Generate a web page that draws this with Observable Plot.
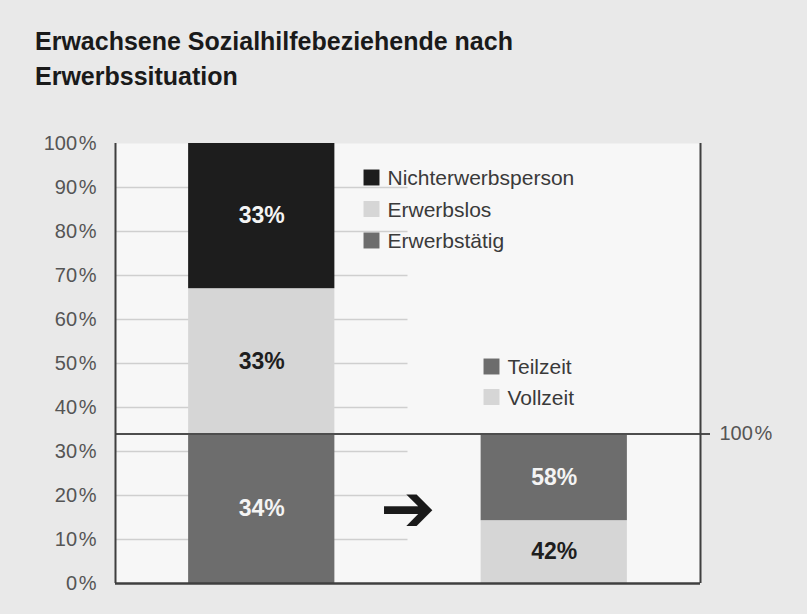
<!DOCTYPE html>
<html><head><meta charset="utf-8">
<script src="https://cdn.jsdelivr.net/npm/d3@7"></script>
<script src="https://cdn.jsdelivr.net/npm/@observablehq/plot@0.6"></script>
<style>
html,body{margin:0;padding:0;background:#e9e9e9;}
#wrap{position:relative;width:807px;height:614px;background:#e9e9e9;font-family:"Liberation Sans",Arial,sans-serif;overflow:hidden;}
#title{position:absolute;left:35px;top:24px;margin:0;font-size:25px;font-weight:bold;line-height:35px;color:#1a1a1a;z-index:2;}
#chart{position:absolute;left:0;top:0;}
</style></head><body>
<div id="wrap">
<h1 id="title">Erwachsene Sozialhilfebeziehende nach<br>Erwerbssituation</h1>
<div id="chart"></div>
</div>
<script>
// ---- data ----
const barNames = ["Alle Erwachsenen", "Erwerbstätige"];
const statusCategories = ["Erwerbstätig", "Erwerbslos", "Nichterwerbsperson"];
const statusValues = [34, 33, 33];
const workCategories = ["Vollzeit", "Teilzeit"];
const workValues = [42, 58];
const yTicks = [0, 10, 20, 30, 40, 50, 60, 70, 80, 90, 100];
const yTickLabels = ["0\u200A%", "10\u200A%", "20\u200A%", "30\u200A%", "40\u200A%", "50\u200A%", "60\u200A%", "70\u200A%", "80\u200A%", "90\u200A%", "100\u200A%"];
const rightLabel = "100\u200A%";
const arrowSymbol = "\u2794";

// ---- styles ----
const colors = {
  "Erwerbstätig": "#6d6d6d",
  "Erwerbslos": "#d6d6d6",
  "Nichterwerbsperson": "#1d1d1d",
  "Teilzeit": "#6d6d6d",
  "Vollzeit": "#d6d6d6"
};
const labelColors = {
  "Erwerbstätig": "#f4f4f4",
  "Erwerbslos": "#1e1e1e",
  "Nichterwerbsperson": "#f4f4f4",
  "Teilzeit": "#f4f4f4",
  "Vollzeit": "#1e1e1e"
};

// slot layout: bar i centred at 2 + 4*i on a 0..8 axis, arrow in between
const slotCenter = i => 2 + 4 * i;
const arrowX = (slotCenter(0) + slotCenter(1)) / 2;

function stackSegments(barIndex, cats, vals, scale) {
  let acc = 0;
  return cats.map((c, j) => {
    const v = vals[j] * scale;
    const seg = {
      bar: barNames[barIndex], category: c, value: vals[j],
      x1: slotCenter(barIndex) - 1, x2: slotCenter(barIndex) + 1,
      xc: slotCenter(barIndex), y1: acc, y2: acc + v, ym: acc + v / 2,
      label: vals[j] + "%"
    };
    acc += v;
    return seg;
  });
}
const working = statusValues[statusCategories.indexOf("Erwerbstätig")];
const segments = [
  ...stackSegments(0, statusCategories, statusValues, 1),
  ...stackSegments(1, workCategories, workValues, working / 100)
];

const legend1 = ["Nichterwerbsperson", "Erwerbslos", "Erwerbstätig"];
const legend2 = ["Teilzeit", "Vollzeit"];
function legendMarks(items, sx, sy, step) {
  return items.flatMap((name, i) => [
    Plot.dot([name], {frameAnchor: "top-left", dx: sx, dy: sy + i * step, symbol: "square", r: 9, fill: colors[name], stroke: null}),
    Plot.text([name], {frameAnchor: "top-left", lineAnchor: "middle", dx: sx + 16, dy: sy + i * step + 1, text: d => d, textAnchor: "start", fontSize: 21, fill: "#3a3a3a"})
  ]);
}

const chart = Plot.plot({
  width: 807, height: 614,
  marginTop: 143, marginBottom: 31, marginLeft: 115, marginRight: 107,
  style: {background: "transparent", fontFamily: "'Liberation Sans', Arial, sans-serif", fontSize: "20px", overflow: "visible"},
  x: {domain: [0, 8], axis: null},
  y: {domain: [0, 100], axis: null},
  marks: [
    Plot.frame({fill: "#f7f7f7", stroke: null}),
    Plot.ruleY(yTicks.filter(t => t > 0 && t < 100), {x1: 0, x2: arrowX, stroke: "#cfcfcf", strokeWidth: 1.3}),
    Plot.rect(segments, {x1: "x1", x2: "x2", y1: "y1", y2: "y2", fill: d => colors[d.category]}),
    Plot.text(segments, {x: "xc", y: "ym", text: "label", fill: d => labelColors[d.category], fontSize: 23, fontWeight: "bold"}),
    Plot.ruleY([working], {x1: 0, x2: 8, insetRight: -10, stroke: "#4d4d4d", strokeWidth: 2}),
    Plot.text([rightLabel], {x: 8, y: working, dx: 19, textAnchor: "start", text: d => d, fontSize: 20, fill: "#555"}),
    Plot.text([arrowSymbol], {x: arrowX, y: working / 2, dy: 1, text: d => d, fontSize: 66, fontFamily: "DejaVu Sans", fill: "#1a1a1a"}),
    Plot.ruleX([0, 8], {stroke: "#3f3f3f", strokeWidth: 2}),
    Plot.ruleY([0], {stroke: "#3f3f3f", strokeWidth: 2.5}),
    Plot.axisY({ticks: yTicks, tickFormat: d => yTickLabels[yTicks.indexOf(d)], tickSize: 0, tickPadding: 19, fontSize: 20, fill: "#555"}),
    ...legendMarks(legend1, 256, 34, 31.5),
    ...legendMarks(legend2, 376, 223, 30.5)
  ]
});
document.getElementById("chart").appendChild(chart);
</script>
</body></html>
